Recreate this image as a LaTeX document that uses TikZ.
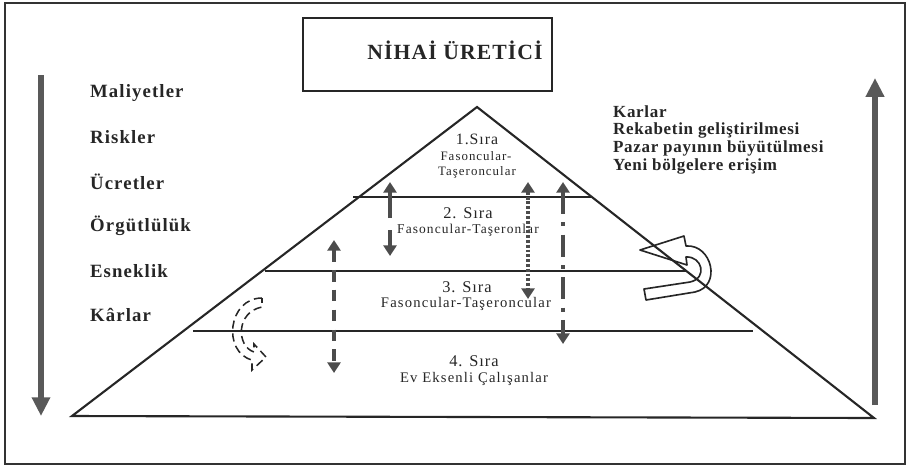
\documentclass[tikz,border=0pt]{standalone}
\usepackage{fontspec}
\setmainfont{Liberation Serif}
\usetikzlibrary{arrows.meta}

\tikzset{
  sidelbl/.style={anchor=west, text=black!85, font=\bfseries\fontsize{16}{18}\selectfont\addfontfeature{LetterSpace=6}},
  gainlbl/.style={anchor=west, text=black!85, font=\bfseries\fontsize{14.5}{16}\selectfont\addfontfeature{LetterSpace=4}},
  tier/.style={text=black!85, font=\fontsize{14}{16}\selectfont\addfontfeature{LetterSpace=6}},
  tiersub/.style={text=black!85, font=\fontsize{11.5}{13}\selectfont\addfontfeature{LetterSpace=8}},
  tierline/.style={line width=1.6pt, color=black!85},
  bigarrow/.style={line width=5pt, color=black!65, -{Triangle[width=15pt,length=16pt]}},
  flowarrow/.style={line width=4pt, color=black!70, -{Triangle[width=11pt,length=9pt]}},
  twoway/.style={line width=4pt, color=black!70, {Triangle[width=11pt,length=9pt]}-{Triangle[width=11pt,length=9pt]}}
}

\begin{document}
\begin{tikzpicture}[x=0.03cm, y=-0.03cm]
  \useasboundingbox (0,0) rectangle (909,468);

  % outer frame
  \draw[line width=2.2pt, color=black!80] (5,3) rectangle (905,464);

  % title box
  \node[draw, line width=1.6pt, color=black!85, minimum width=7.47cm, minimum height=2.19cm, inner sep=0pt] (titlebox) at (427.5,54.5) {};
  \node[text=black!85, font=\bfseries\fontsize{18.5}{20}\selectfont\addfontfeature{LetterSpace=5}] (title) at (455,50) {NİHAİ ÜRETİCİ};

  % pyramid
  \coordinate (apex) at (477,107);
  \coordinate (bl) at (72,416);
  \coordinate (br) at (874,418);
  \draw[line width=1.8pt, color=black!85, line join=miter] (bl) -- (apex) -- (br) -- cycle;

  % tier borders
  \draw[tierline] (353,197) -- (592,197);
  \draw[tierline] (265,271) -- (687,271);
  \draw[tierline] (193,331) -- (753,331);

  % tier texts
  \node[tier, font=\fontsize{13.5}{15}\selectfont\addfontfeature{LetterSpace=6}] (s1) at (477,139) {1.Sıra};
  \node[tiersub, font=\fontsize{11}{12}\selectfont\addfontfeature{LetterSpace=8}] (f1) at (476,156) {Fasoncular-};
  \node[tiersub, font=\fontsize{11}{12}\selectfont\addfontfeature{LetterSpace=8}] (t1) at (477,172) {Taşeroncular};
  \node[tier] (s2) at (468,213) {2. Sıra};
  \node[tiersub] (f2) at (468,230) {Fasoncular-Taşeronlar};
  \node[tier] (s3) at (467,287) {3. Sıra};
  \node[tiersub, font=\fontsize{12.5}{14}\selectfont\addfontfeature{LetterSpace=8}] (f3) at (466,304) {Fasoncular-Taşeroncular};
  \node[tier] (s4) at (474,361) {4. Sıra};
  \node[tiersub, font=\fontsize{12.5}{14}\selectfont\addfontfeature{LetterSpace=8}] (f4) at (474,379) {Ev Eksenli Çalışanlar};

  % big side arrows
  \draw[bigarrow] (41,75) -- (41,416);
  \draw[bigarrow] (875,405) -- (875,78);

  % movement arrows between tiers
  \draw[flowarrow] (390,218) -- (390,182);
  \draw[flowarrow] (390,230) -- (390,256);
  \draw[twoway, dash pattern=on 10pt off 7pt] (334,240) -- (334,373);
  \draw[twoway, line width=3.5pt, dash pattern=on 2.5pt off 1.6pt] (528,182) -- (528,299);
  \draw[twoway, dash pattern=on 19pt off 7pt on 3.4pt off 7pt] (563,182) -- (563,344);

  % turning arrows
  \draw[line width=1.4pt, color=black!85, line join=round]
    (640,250) -- (684,236) -- (686,246) .. controls (712,244) and (722,286) .. (695,292)
    -- (646,300) -- (644,289) -- (690,282) .. controls (708,278) and (702,256) .. (686,257)
    -- (687,265) -- cycle;
  \draw[line width=1.3pt, color=black!85, dash pattern=on 7pt off 4pt]
    (262,298) .. controls (228,298) and (222,352) .. (252,360) -- (252,370) -- (266,357)
    -- (254,344) -- (254,352) .. controls (236,346) and (236,312) .. (262,307) -- cycle;

  % left side labels
  \foreach \t [count=\i] in {Maliyetler, Riskler, Ücretler, Örgütlülük, Esneklik, Kârlar} {
    \node[sidelbl] (cost\i) at (86,{93+44.4*(\i-1)}) {\t};
  }

  % right side labels
  \foreach \t [count=\i] in {Karlar, Rekabetin geliştirilmesi, Pazar payının büyütülmesi, Yeni bölgelere erişim} {
    \node[gainlbl] (gain\i) at (609,{112+18.3*(\i-1)}) {\t};
  }
\end{tikzpicture}
\end{document}
